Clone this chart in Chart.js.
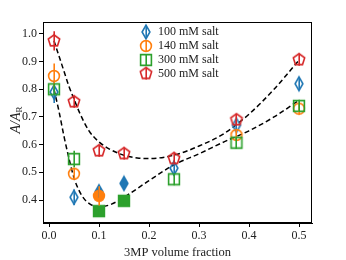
<!DOCTYPE html>
<html>
<head>
<meta charset="utf-8">
<script src="https://cdn.jsdelivr.net/npm/chart.js@4.4.0/dist/chart.umd.min.js"></script>
<style>
  html, body { margin: 0; padding: 0; background: #fff; }
  #wrap { width: 346px; height: 260px; }
</style>
</head>
<body>
<div id="wrap"><canvas id="chart" width="346" height="260"></canvas></div>
<script>
// data
const labels = ['100 mM salt', '140 mM salt', '300 mM salt', '500 mM salt'];
const xTicks = [0.0, 0.1, 0.2, 0.3, 0.4, 0.5];
const yTicks = [0.4, 0.5, 0.6, 0.7, 0.8, 0.9, 1.0];

const x100 = [0.01, 0.05, 0.1, 0.15, 0.25, 0.375, 0.5];
const y100 = [0.79, 0.41, 0.43, 0.46, 0.515, 0.67, 0.82];
const e100 = [0.04, 0.028, 0.022, 0.022, 0.028, 0.022, 0.022];
const f100 = [0, 0, 1, 1, 0, 0, 0];

const x140 = [0.01, 0.05, 0.1, 0.375, 0.5];
const y140 = [0.848, 0.495, 0.415, 0.635, 0.73];
const e140 = [0.045, 0.022, 0.035, 0.022, 0.022];
const f140 = [0, 0, 1, 0, 0];

const x300 = [0.01, 0.05, 0.1, 0.15, 0.25, 0.375, 0.5];
const y300 = [0.80, 0.548, 0.36, 0.397, 0.475, 0.607, 0.74];
const e300 = [0.022, 0.03, 0.015, 0.015, 0.022, 0.022, 0.022];
const f300 = [0, 0, 1, 1, 0, 0, 0];

const x500 = [0.01, 0.05, 0.1, 0.15, 0.25, 0.375, 0.5];
const y500 = [0.975, 0.755, 0.578, 0.568, 0.55, 0.69, 0.907];
const e500 = [0.035, 0.022, 0.022, 0.022, 0.022, 0.022, 0.022];
const f500 = [0, 0, 0, 0, 0, 0, 0];

// dashed fit curves
const fitUpX = [0.01, 0.02, 0.03, 0.04, 0.05, 0.06, 0.08, 0.1, 0.12, 0.15, 0.18, 0.2, 0.25, 0.3, 0.35, 0.4, 0.45, 0.5];
const fitUpY = [0.975, 0.92, 0.865, 0.81, 0.765, 0.72, 0.65, 0.61, 0.585, 0.562, 0.551, 0.55, 0.562, 0.595, 0.64, 0.71, 0.80, 0.905];
const fitLoX = [0.01, 0.02, 0.03, 0.04, 0.05, 0.06, 0.07, 0.08, 0.09, 0.1, 0.11, 0.125, 0.15, 0.2, 0.25, 0.3, 0.35, 0.4, 0.45, 0.5];
const fitLoY = [0.80, 0.72, 0.63, 0.55, 0.48, 0.435, 0.405, 0.388, 0.378, 0.375, 0.377, 0.385, 0.41, 0.47, 0.527, 0.567, 0.61, 0.65, 0.70, 0.76];

const colors = ['#1f77b4', '#ff7f0e', '#2ca02c', '#d62728'];
const shapes = ['thinDiamond', 'circle', 'square', 'pentagon'];
const FONT = '"Liberation Serif", "DejaVu Serif", serif';

function makeMarker(shape, color, filled) {
    const c = document.createElement('canvas');
    c.width = 18; c.height = 18;
    const g = c.getContext('2d');
    g.translate(9, 9);
    g.beginPath();
    if (shape === 'thinDiamond') {
        g.moveTo(0, -6.8); g.lineTo(3.9, 0); g.lineTo(0, 6.8); g.lineTo(-3.9, 0); g.closePath();
    } else if (shape === 'circle') {
        g.arc(0, 0, 5.4, 0, Math.PI * 2);
    } else if (shape === 'square') {
        g.rect(-5.4, -5.4, 10.8, 10.8);
    } else {
        for (let i = 0; i < 5; i++) {
            const a = -Math.PI / 2 + i * 2 * Math.PI / 5;
            const px = 6 * Math.cos(a), py = 6 * Math.sin(a);
            if (i === 0) g.moveTo(px, py); else g.lineTo(px, py);
        }
        g.closePath();
    }
    g.lineWidth = 1.6;
    g.strokeStyle = color;
    if (filled) { g.fillStyle = color; g.fill(); }
    g.stroke();
    return c;
}

const markers = shapes.map((s, i) => [makeMarker(s, colors[i], false), makeMarker(s, colors[i], true)]);

function pts(xs, ys) { return xs.map((x, i) => ({ x: x, y: ys[i] })); }

const series = [
    { xs: x100, ys: y100, es: e100, fs: f100 },
    { xs: x140, ys: y140, es: e140, fs: f140 },
    { xs: x300, ys: y300, es: e300, fs: f300 },
    { xs: x500, ys: y500, es: e500, fs: f500 }
];

const datasets = series.map((s, i) => ({
    label: labels[i],
    data: pts(s.xs, s.ys),
    showLine: false,
    pointRadius: 5,
    pointStyle: s.fs.map(f => markers[i][f]),
    order: 4 - i
}));

[[fitUpX, fitUpY], [fitLoX, fitLoY]].forEach(([xs, ys]) => {
    datasets.push({
        label: 'fit',
        data: pts(xs, ys),
        showLine: true,
        borderColor: '#000',
        borderWidth: 1.5,
        borderDash: [5, 3],
        pointRadius: 0,
        cubicInterpolationMode: 'monotone',
        order: 10
    });
});

// error bars, frame, legend and y title
const extras = {
    id: 'extras',
    afterDatasetsDraw(chart) {
        const ctx = chart.ctx;
        const xs = chart.scales.x, ys = chart.scales.y;
        ctx.save();
        ctx.lineWidth = 1.6;
        series.forEach((s, i) => {
            ctx.strokeStyle = colors[i];
            s.xs.forEach((x, j) => {
                const px = Math.round(xs.getPixelForValue(x)) + 0.2;
                ctx.beginPath();
                ctx.moveTo(px, ys.getPixelForValue(s.ys[j] - s.es[j]));
                ctx.lineTo(px, ys.getPixelForValue(s.ys[j] + s.es[j]));
                ctx.stroke();
            });
        });
        ctx.restore();
    },
    afterDraw(chart) {
        const ctx = chart.ctx;
        const a = chart.chartArea;
        ctx.save();
        ctx.strokeStyle = '#000';
        ctx.lineWidth = 1;
        ctx.strokeRect(a.left + 0.5, a.top + 0.5, a.right - a.left - 1, a.bottom - a.top - 1);

        // legend
        ctx.font = '12px ' + FONT;
        ctx.textBaseline = 'middle';
        ctx.fillStyle = '#222';
        const lx = 146, ly = [32, 46, 60, 73.5];
        labels.forEach((t, i) => {
            const m = markers[i][0];
            ctx.drawImage(m, lx - m.width / 2, ly[i] - m.height / 2);
            ctx.strokeStyle = colors[i];
            ctx.lineWidth = 1.6;
            ctx.beginPath();
            ctx.moveTo(lx + 0.2, ly[i] - 6);
            ctx.lineTo(lx + 0.2, ly[i] + 6);
            ctx.stroke();
            ctx.fillText(t, 158, ly[i]);
        });

        // y title A/A_R
        ctx.translate(16, 120);
        ctx.rotate(-Math.PI / 2);
        ctx.fillStyle = '#222';
        ctx.textBaseline = 'middle';
        ctx.font = 'italic 14px ' + FONT;
        const main = 'A/A';
        const w = ctx.measureText(main).width;
        ctx.font = '9px ' + FONT;
        const ws = ctx.measureText('R').width;
        const x0 = -(w + ws) / 2;
        ctx.font = 'italic 14px ' + FONT;
        ctx.fillText(main, x0, 0);
        ctx.font = '9px ' + FONT;
        ctx.fillText('R', x0 + w, 3.5);
        ctx.restore();
    }
};

new Chart(document.getElementById('chart'), {
    type: 'scatter',
    data: { datasets: datasets },
    options: {
        responsive: false,
        animation: false,
        layout: { padding: { top: 22, right: 34, left: 0, bottom: 0 } },
        plugins: { legend: { display: false }, tooltip: { enabled: false } },
        scales: {
            x: {
                type: 'linear',
                min: -0.012, max: 0.526,
                afterBuildTicks: s => { s.ticks = xTicks.map(v => ({ value: v })); },
                afterFit: s => { s.height = 37; },
                grid: { drawOnChartArea: false, tickLength: 4, color: '#000' },
                border: { color: '#000' },
                ticks: {
                    font: { family: FONT, size: 12 }, color: '#222', padding: 2,
                    callback: v => v.toFixed(1)
                },
                title: {
                    display: true, text: '3MP volume fraction',
                    font: { family: FONT, size: 12.5 }, color: '#222', padding: { top: 0, bottom: 0 }
                }
            },
            y: {
                type: 'linear',
                min: 0.317, max: 1.043,
                afterBuildTicks: s => { s.ticks = yTicks.map(v => ({ value: v })); },
                afterFit: s => { s.width = 43; },
                grid: { drawOnChartArea: false, tickLength: 4, color: '#000' },
                border: { color: '#000' },
                ticks: {
                    font: { family: FONT, size: 12 }, color: '#222', padding: 2,
                    callback: v => v.toFixed(1)
                }
            }
        }
    },
    plugins: [extras]
});
</script>
</body>
</html>
